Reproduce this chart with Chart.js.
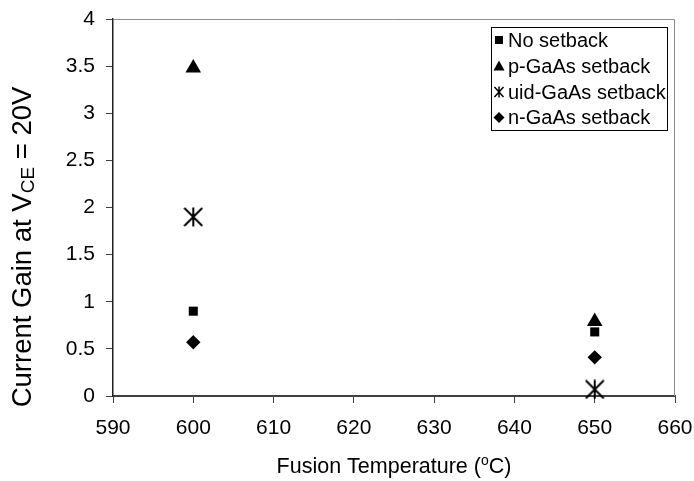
<!DOCTYPE html>
<html>
<head>
<meta charset="utf-8">
<script src="https://cdn.jsdelivr.net/npm/chart.js@4/dist/chart.umd.min.js"></script>
<style>
  html, body { margin: 0; padding: 0; background: #fff; }
  #wrap { width: 694px; height: 481px; position: relative; }
</style>
</head>
<body>
<div id="wrap"><canvas id="gainChart"></canvas></div>
<script>
// Current gain at VCE = 20V versus fusion temperature, per setback layer type
const temperatures    = [600, 650];
const noSetback       = [0.90, 0.68];
const pGaAsSetback    = [3.48, 0.79];
const uidGaAsSetback  = [1.90, 0.07];
const nGaAsSetback    = [0.57, 0.41];
const seriesNames     = ['No setback', 'p-GaAs setback', 'uid-GaAs setback', 'n-GaAs setback'];
const xTickValues     = [590, 600, 610, 620, 630, 640, 650, 660];
const yTickValues     = [0, 0.5, 1, 1.5, 2, 2.5, 3, 3.5, 4];

const FONT = '"Liberation Sans", Arial, sans-serif';

// Asterisk marker: an X crossed by a vertical stroke
function asteriskImage(w, h, lw) {
  const c = document.createElement('canvas');
  c.width = w; c.height = h;
  const g = c.getContext('2d');
  g.strokeStyle = '#000';
  g.lineWidth = lw;
  g.beginPath();
  g.moveTo(w / 2, 0.5); g.lineTo(w / 2, h - 0.5);
  g.moveTo(1, 1); g.lineTo(w - 1, h - 1);
  g.moveTo(w - 1, 1); g.lineTo(1, h - 1);
  g.stroke();
  return c;
}

function pairs(values) {
  return temperatures.map((t, i) => ({ x: t, y: values[i] }));
}

const datasets = [
  { label: seriesNames[0], data: pairs(noSetback), pointStyle: 'rect', pointRadius: 6.4 },
  { label: seriesNames[1], data: pairs(pGaAsSetback), pointStyle: 'triangle', pointRadius: 9 },
  { label: seriesNames[2], data: pairs(uidGaAsSetback), pointStyle: asteriskImage(20, 20, 2), pointRadius: 10 },
  { label: seriesNames[3], data: pairs(nGaAsSetback), pointStyle: 'rectRot', pointRadius: 7.2 }
].map(d => Object.assign(d, {
  backgroundColor: '#000',
  borderColor: '#000',
  borderWidth: 0,
  pointHoverRadius: d.pointRadius,
  showLine: false,
  clip: false
}));

// Draws runs of text with optional sub/superscript pieces, centred on (cx, baseline)
function drawRuns(ctx, runs, cx, baseline) {
  let total = 0;
  runs.forEach(r => { ctx.font = r.size + 'px ' + FONT; r.w = ctx.measureText(r.text).width; total += r.w; });
  let x = cx - total / 2;
  ctx.textAlign = 'left';
  ctx.textBaseline = 'alphabetic';
  runs.forEach(r => {
    ctx.font = r.size + 'px ' + FONT;
    ctx.fillText(r.text, x, baseline + (r.shift || 0));
    x += r.w;
  });
}

const decorations = {
  id: 'decorations',
  beforeDatasetsDraw(chart) {
    const { ctx, chartArea: a } = chart;
    ctx.save();
    ctx.strokeStyle = '#8c8c8c';
    ctx.lineWidth = 1;
    ctx.beginPath();
    ctx.moveTo(a.left, a.top + 0.5);
    ctx.lineTo(a.right - 0.5, a.top + 0.5);
    ctx.lineTo(a.right - 0.5, a.bottom);
    ctx.stroke();
    ctx.restore();
  },
  afterDraw(chart) {
    const { ctx, chartArea: a } = chart;
    ctx.save();
    ctx.fillStyle = '#000';

    // x-axis title
    drawRuns(ctx, [
      { text: 'Fusion Temperature (', size: 21.5 },
      { text: 'o', size: 14, shift: -8 },
      { text: 'C)', size: 21.5 }
    ], (a.left + a.right) / 2, 473);

    // y-axis title, rotated
    ctx.save();
    ctx.translate(31, 247);
    ctx.rotate(-Math.PI / 2);
    drawRuns(ctx, [
      { text: 'Current Gain at V', size: 27.5 },
      { text: 'CE', size: 19, shift: 3 },
      { text: ' = 20V', size: 27.5 }
    ], 0, 0);
    ctx.restore();

    // legend
    const box = { left: 491.5, top: 27.5, right: 667.5, bottom: 130.5 };
    ctx.fillStyle = '#fff';
    ctx.fillRect(box.left, box.top, box.right - box.left, box.bottom - box.top);
    ctx.strokeStyle = '#000';
    ctx.lineWidth = 1;
    ctx.strokeRect(box.left, box.top, box.right - box.left, box.bottom - box.top);
    const rows = [40, 66, 92, 117.5];
    const mx = 499;
    ctx.fillStyle = '#000';
    ctx.strokeStyle = '#000';
    // square
    ctx.fillRect(mx - 4, rows[0] - 4, 8, 8);
    // triangle
    ctx.beginPath();
    ctx.moveTo(mx, rows[1] - 5.5); ctx.lineTo(mx + 5.5, rows[1] + 4.5); ctx.lineTo(mx - 5.5, rows[1] + 4.5);
    ctx.closePath(); ctx.fill();
    // asterisk
    ctx.lineWidth = 1.5;
    ctx.beginPath();
    ctx.moveTo(mx, rows[2] - 5.5); ctx.lineTo(mx, rows[2] + 5.5);
    ctx.moveTo(mx - 4.5, rows[2] - 5); ctx.lineTo(mx + 4.5, rows[2] + 5);
    ctx.moveTo(mx + 4.5, rows[2] - 5); ctx.lineTo(mx - 4.5, rows[2] + 5);
    ctx.stroke();
    // diamond
    ctx.beginPath();
    ctx.moveTo(mx, rows[3] - 5.5); ctx.lineTo(mx + 5.5, rows[3]); ctx.lineTo(mx, rows[3] + 5.5); ctx.lineTo(mx - 5.5, rows[3]);
    ctx.closePath(); ctx.fill();

    ctx.font = '20px ' + FONT;
    ctx.textAlign = 'left';
    ctx.textBaseline = 'middle';
    seriesNames.forEach((name, i) => ctx.fillText(name, 508, rows[i] + 1));
    ctx.restore();
  }
};

new Chart(document.getElementById('gainChart'), {
  type: 'scatter',
  data: { datasets },
  options: {
    responsive: true,
    maintainAspectRatio: false,
    animation: false,
    devicePixelRatio: 1,
    layout: { padding: { top: 19, right: 19, left: 0, bottom: 0 } },
    plugins: {
      legend: { display: false },
      tooltip: { enabled: false },
      title: { display: false }
    },
    scales: {
      x: {
        type: 'linear',
        position: 'bottom',
        min: 590,
        max: 660,
        afterBuildTicks: s => { s.ticks = xTickValues.map(v => ({ value: v })); },
        afterFit: s => { s.height = 85; s.paddingLeft = 0; s.paddingRight = 0; },
        ticks: {
          color: '#000',
          font: { family: FONT, size: 21 },
          padding: 13,
          maxRotation: 0,
          autoSkip: false,
          callback: v => String(v)
        },
        grid: { drawOnChartArea: false, drawTicks: true, tickLength: 7, color: '#404040', lineWidth: 1 },
        border: { display: true, color: '#404040', width: 2 },
        title: { display: false }
      },
      y: {
        type: 'linear',
        position: 'left',
        min: 0,
        max: 4,
        afterBuildTicks: s => { s.ticks = yTickValues.map(v => ({ value: v })); },
        afterFit: s => { s.width = 113; s.paddingTop = 0; s.paddingBottom = 0; },
        ticks: {
          color: '#000',
          font: { family: FONT, size: 21 },
          padding: 11,
          autoSkip: false,
          callback: v => String(v)
        },
        grid: { drawOnChartArea: false, drawTicks: true, tickLength: 7, color: '#404040', lineWidth: 1 },
        border: { display: true, color: '#202020', width: 1.5 },
        title: { display: false }
      }
    }
  },
  plugins: [decorations]
});
</script>
</body>
</html>
